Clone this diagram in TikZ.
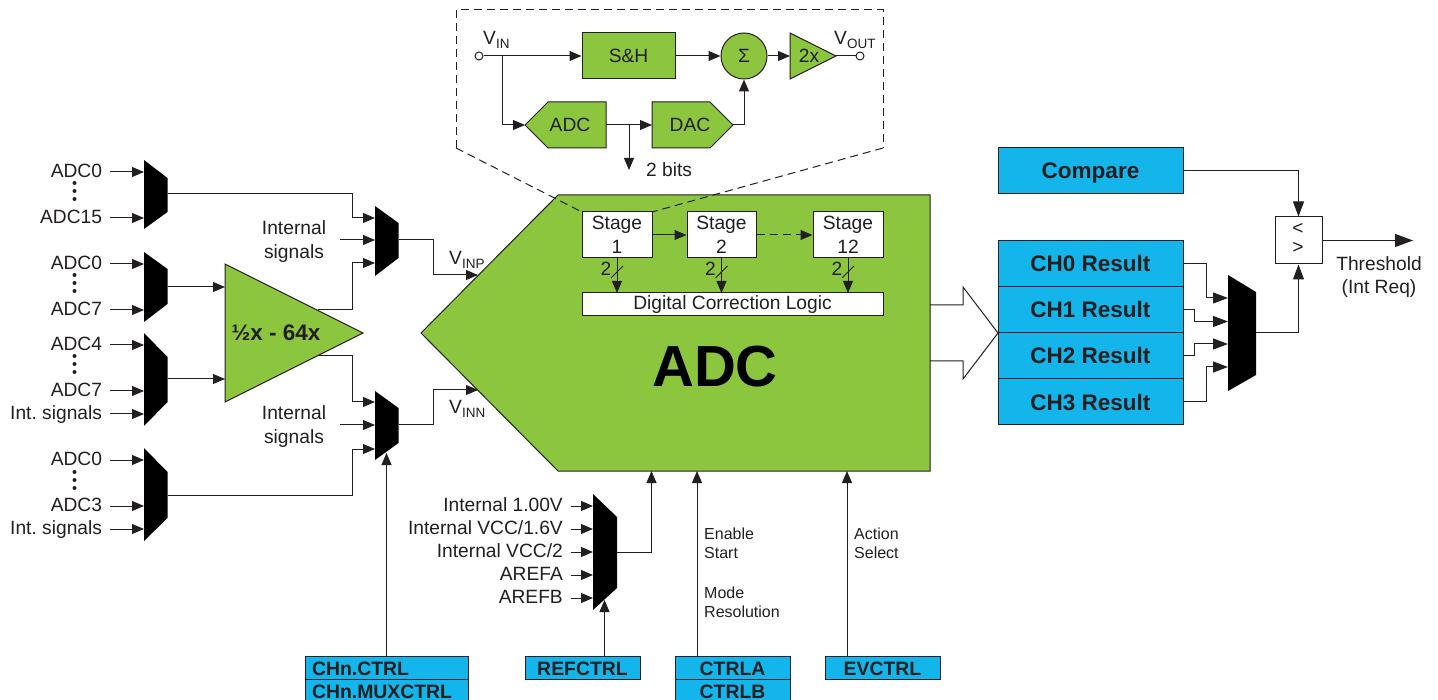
\documentclass[tikz,border=0pt]{standalone}
\usepackage{fontspec}
\setmainfont{Liberation Sans}
\usetikzlibrary{arrows.meta}
\frenchspacing
\definecolor{gr}{HTML}{8CC63F}
\definecolor{bl}{HTML}{13B5EA}
\definecolor{ink}{HTML}{231F20}
\newcommand{\fs}[1]{\fontsize{#1}{#1}\selectfont}
\newcommand{\vsub}[1]{V\raisebox{-3.5pt}{\fs{13.5}#1}}
\newcommand{\vdotsat}[2]{\foreach \dy in {-8,0,8} \fill[ink] (#1,#2+\dy) circle (2);}
\tikzset{
 wire/.style={draw=ink,line width=1pt,-{Triangle[length=12pt,width=10pt]}},
 bigwire/.style={draw=ink,line width=1pt,-{Triangle[length=15pt,width=11pt]}},
 hugewire/.style={draw=ink,line width=1pt,-{Triangle[length=18pt,width=13pt]}},
 plain/.style={draw=ink,line width=1pt},
 lbl/.style={font=\fs{19.2},text=ink,inner sep=0pt,text height=13.5pt,text depth=0pt},
 small/.style={font=\fs{16},text=ink,inner sep=0pt,anchor=west,text height=11pt,text depth=0pt},
 two/.style={font=\fs{19.2},text=ink,inner sep=0pt,align=center},
 bluebox/.style={draw=ink,fill=bl,line width=1pt,inner sep=0pt,text=ink,font=\fs{22.5}\bfseries,text height=16pt,text depth=0pt},
 regbox/.style={bluebox,font=\fs{19.4}\bfseries,minimum height=23pt,text height=14pt},
 whitebox/.style={draw=ink,fill=white,line width=1pt,inner sep=0pt,text=ink,font=\fs{19.2}},
 greenshape/.style={draw=ink,fill=gr,line width=1pt,line join=miter},
 callout/.style={draw=ink,line width=1pt,dash pattern=on 8pt off 5pt},
 port/.style={circle,draw=ink,fill=white,line width=1pt,minimum size=8pt,inner sep=0pt},
}
\begin{document}
\begin{tikzpicture}[x=1pt,y=-1pt]
\useasboundingbox (0,0) rectangle (1438,700);
\fill[white] (0,0) rectangle (1438,700);
% ---------- big ADC
\draw[greenshape] (421,333) -- (558,195) -- (930,195) -- (930,471) -- (558,471) -- cycle;
\node[font=\fs{58}\bfseries,text=black,inner sep=0pt] (adctxt) at (715,367) {ADC};
\coordinate (adcp) at (478,275);
\coordinate (adcn) at (478,390);
\coordinate (adcb1) at (651.5,471);
\coordinate (adcb2) at (697,471);
\coordinate (adcb3) at (847,471);
% ---------- amplifier
\draw[greenshape] (225,264) -- (363,333) -- (225,402) -- cycle;
\node[font=\fs{22.5}\bfseries,text=ink,inner sep=0pt] (amp) at (276,333) {½x - 64x};
\coordinate (ampa) at (225,287);
\coordinate (ampb) at (225,379);
\coordinate (ampo1) at (318,310);
\coordinate (ampo2) at (318,356);
% ---------- muxes
\fill[black] (144,160) -- (167.5,178) -- (167.5,212) -- (144,229) -- cycle;
\fill[black] (144,252) -- (167.5,269) -- (167.5,304) -- (144,322) -- cycle;
\fill[black] (144,333) -- (167.5,357) -- (167.5,402) -- (144,426) -- cycle;
\fill[black] (144,448) -- (167.5,472) -- (167.5,518) -- (144,541) -- cycle;
\fill[black] (375,206) -- (398.5,223) -- (398.5,258) -- (375,276) -- cycle;
\fill[black] (375,391) -- (398.5,408) -- (398.5,443) -- (375,460) -- cycle;
\fill[black] (593,494) -- (617,517) -- (617,588) -- (593,610) -- cycle;
\fill[black] (1228,275) -- (1256,292) -- (1256,375) -- (1228,391) -- cycle;
\coordinate (m1o) at (167.5,194);
\coordinate (m2o) at (167.5,287);
\coordinate (m3o) at (167.5,379);
\coordinate (m4o) at (167.5,495);
\coordinate (m5o) at (398.5,240);
\coordinate (m6o) at (398.5,425);
\coordinate (m7o) at (1256,333);
\coordinate (m8o) at (617,552);
% ---------- left inputs
\foreach \n/\t/\y/\m in {a/ADC0/172/144, b/ADC15/218/144, c/ADC0/264/144, d/ADC7/310/144, e/ADC4/345/144, f/ADC7/391/144, g/Int. signals/414/144, h/ADC0/460/144, i/ADC3/506/144, j/Int. signals/529/144}{
  \node[lbl,anchor=east,outer xsep=0pt] (in\n) at (102,\y-1) {\t};
  \coordinate (ins\n) at (110,\y);
  \coordinate (ine\n) at (\m,\y);
  \draw[wire] (ins\n) -- (ine\n);
}
\vdotsat{74.5}{191}
\vdotsat{74.5}{283}
\vdotsat{74.5}{364}
\vdotsat{74.5}{480}
% ---------- internal signals
\node[two] (is1) at (294,241.5) {Internal\\[4.3pt]signals};
\node[two] (is2) at (294,426.5) {Internal\\[4.3pt]signals};
\coordinate (is1e) at (340,240);
\coordinate (is2e) at (340,425);
\coordinate (m5a) at (375,218);
\coordinate (m5b) at (375,240);
\coordinate (m5c) at (375,263);
\coordinate (m6a) at (375,402);
\coordinate (m6b) at (375,425);
\coordinate (m6c) at (375,449);
\draw[wire] (m1o) -- (352,194) -- (352,218) -- (m5a);
\draw[wire] (is1e) -- (m5b);
\draw[wire] (ampo1) -- (352,310) -- (352,263) -- (m5c);
\draw[wire] (m2o) -- (ampa);
\draw[wire] (m3o) -- (ampb);
\draw[wire] (ampo2) -- (352,356) -- (352,402) -- (m6a);
\draw[wire] (is2e) -- (m6b);
\draw[wire] (m4o) -- (352,495) -- (352,449) -- (m6c);
\draw[wire] (m5o) -- (433,240) -- (433,275) -- (adcp);
\draw[wire] (m6o) -- (433,425) -- (433,390) -- (adcn);
\node[lbl,anchor=west] (vinp) at (449,258) {\vsub{INP}};
\node[lbl,anchor=west] (vinn) at (449,407) {\vsub{INN}};
% ---------- callout
\draw[callout] (456,148) -- (456,10) -- (883,10) -- (883,148);
\draw[callout] (456,148) -- (582,212);
\draw[callout] (883,148) -- (652,212);
% ---------- inner pipeline stage
\node[port] (vi) at (479,56) {};
\node[port] (vo) at (860,56) {};
\node[lbl,anchor=west] (vilbl) at (483,38) {\vsub{IN}};
\node[lbl,anchor=west] (volbl) at (834,38) {\vsub{OUT}};
\node[draw=ink,fill=gr,line width=1pt,minimum width=93pt,minimum height=46pt,inner sep=0pt,text=ink,font=\fs{19.2}] (sh) at (628.5,56) {S\&H};
\node[circle,draw=ink,fill=gr,line width=1pt,minimum size=46pt,inner sep=0pt,text=ink,font=\fs{19.2}] (sum) at (744,56) {Σ};
\draw[greenshape] (790,33) -- (836,56) -- (790,79) -- cycle;
\node[text=ink,font=\fs{19.2},inner sep=0pt] (gain) at (809,56) {2x};
\coordinate (gi) at (790,56);
\coordinate (go) at (836,56);
\draw[greenshape] (525,125) -- (548,102) -- (606,102) -- (606,148) -- (548,148) -- cycle;
\node[text=ink,font=\fs{19.2},inner sep=0pt] (iadc) at (570,125) {ADC};
\draw[greenshape] (652,102) -- (710,102) -- (733,125) -- (710,148) -- (652,148) -- cycle;
\node[text=ink,font=\fs{19.2},inner sep=0pt] (idac) at (690,125) {DAC};
\coordinate (iadci) at (525,125);
\coordinate (iadco) at (606,125);
\coordinate (idaci) at (652,125);
\coordinate (idaco) at (733,125);
\coordinate (split) at (502,56);
\coordinate (split2) at (629,125);
\coordinate (bits) at (629,170);
\draw[wire] (vi) -- (sh);
\draw[wire] (split) -- (502,125) -- (iadci);
\draw[wire] (sh) -- (sum);
\draw[wire] (sum) -- (gi);
\draw[plain] (go) -- (vo);
\draw[wire] (iadco) -- (idaci);
\draw[wire] (split2) -- (bits);
\draw[wire] (idaco) -- (744,125) -- (sum.south);
\node[lbl,anchor=west] (bitslbl) at (646,170) {2 bits};
% ---------- stages
\node[whitebox,align=center,minimum width=70pt,minimum height=46pt] (s1) at (617,235) {Stage\\[4.3pt]1};
\node[whitebox,align=center,minimum width=69pt,minimum height=46pt] (s2) at (721.5,235) {Stage\\[4.3pt]2};
\node[whitebox,align=center,minimum width=70pt,minimum height=46pt] (s3) at (848,235) {Stage\\[4.3pt]12};
\node[whitebox,minimum width=301pt,minimum height=23pt] (dcl) at (732.5,304.5) {Digital Correction Logic};
\draw[wire] (s1) -- (s2);
\draw[wire,dash pattern=on 8pt off 5pt] (s2) -- (s3);
\foreach \s/\x in {s1/617,s2/721.5,s3/848}{
  \coordinate (\s d) at (\x,293);
  \draw[wire] (\s.south) -- (\s d);
  \draw[plain] (\x-6,278) -- (\x+6,266);
  \node[lbl,inner sep=0pt] at (\x-11,269) {2};
}
% ---------- results
\node[bluebox,minimum width=185pt,minimum height=46pt] (cmp) at (1090.5,171) {Compare};
\node[bluebox,minimum width=185pt,minimum height=46pt] (c0) at (1090.5,264) {CH0 Result};
\node[bluebox,minimum width=185pt,minimum height=46pt] (c1) at (1090.5,310) {CH1 Result};
\node[bluebox,minimum width=185pt,minimum height=46pt] (c2) at (1090.5,356) {CH2 Result};
\node[bluebox,minimum width=185pt,minimum height=46pt] (c3) at (1090.5,402) {CH3 Result};
\draw[plain,line join=miter] (930,305) -- (963,305) -- (963,287) -- (998,333) -- (963,379) -- (963,361) -- (930,361);
\coordinate (m7a) at (1228,298);
\coordinate (m7b) at (1228,321.5);
\coordinate (m7c) at (1228,344);
\coordinate (m7d) at (1228,367);
\draw[bigwire] (c0.east) -- (1206,264) -- (1206,298) -- (m7a);
\draw[bigwire] (c1.east) -- (1194,310) -- (1194,321.5) -- (m7b);
\draw[bigwire] (c2.east) -- (1194,356) -- (1194,344) -- (m7c);
\draw[bigwire] (c3.east) -- (1206,402) -- (1206,367) -- (m7d);
\node[whitebox,minimum width=47pt,minimum height=47pt] (cmpbox) at (1298.5,240.5) {};
\node[text=ink,font=\fs{19.2},inner sep=0pt] (lt) at (1298,229) {<};
\node[text=ink,font=\fs{19.2},inner sep=0pt] (gt) at (1298,248) {>};
\draw[bigwire] (cmp.east) -- (1298.5,171) -- (cmpbox.north);
\draw[bigwire] (m7o) -- (1298.5,333) -- (cmpbox.south);
\coordinate (thr) at (1413,240.5);
\draw[hugewire] (cmpbox.east) -- (thr);
\node[two] (thrlbl) at (1379,277) {Threshold\\[4.3pt](Int Req)};
% ---------- reference mux inputs
\foreach \n/\t/\y in {a/Internal 1.00V/506, b/Internal VCC\slash 1.6V/529, c/Internal VCC\slash 2/552, d/AREFA/575, e/AREFB/598}{
  \node[lbl,anchor=east] (r\n) at (563,\y-1) {\t};
  \coordinate (rs\n) at (570.5,\y);
  \coordinate (re\n) at (593,\y);
  \draw[wire] (rs\n) -- (re\n);
}
\draw[wire] (m8o) -- (651.5,552) -- (adcb1);
% ---------- registers
\node[regbox,minimum width=163pt,anchor=north,text width=149pt,align=left] (chctrl) at (386.5,656) {CHn.CTRL};
\node[regbox,minimum width=163pt,anchor=north,text width=149pt,align=left] (chmux) at (386.5,679) {CHn.MUXCTRL};
\node[regbox,minimum width=115pt,anchor=north] (refc) at (582.5,656) {REFCTRL};
\node[regbox,minimum width=115pt,anchor=north] (ctrla) at (732.5,656) {CTRLA};
\node[regbox,minimum width=115pt,anchor=north] (ctrlb) at (732.5,679) {CTRLB};
\node[regbox,minimum width=115pt,anchor=north] (evc) at (882.5,656) {EVCTRL};
\coordinate (m6s) at (386.5,453);
\coordinate (m8s) at (604.5,600);
\coordinate (cha) at (386.5,656);
\coordinate (refa) at (604.5,656);
\coordinate (cta) at (697,656);
\coordinate (eva) at (847,656);
\draw[wire] (cha) -- (m6s);
\draw[wire] (refa) -- (m8s);
\draw[wire] (cta) -- (adcb2);
\draw[wire] (eva) -- (adcb3);
\node[small] (t1) at (704,533.5) {Enable};
\node[small] (t2) at (704,552.5) {Start};
\node[small] (t3) at (704,592.5) {Mode};
\node[small] (t4) at (704,611.5) {Resolution};
\node[small] (t5) at (854,533.5) {Action};
\node[small] (t6) at (854,552.5) {Select};
\end{tikzpicture}
\end{document}
